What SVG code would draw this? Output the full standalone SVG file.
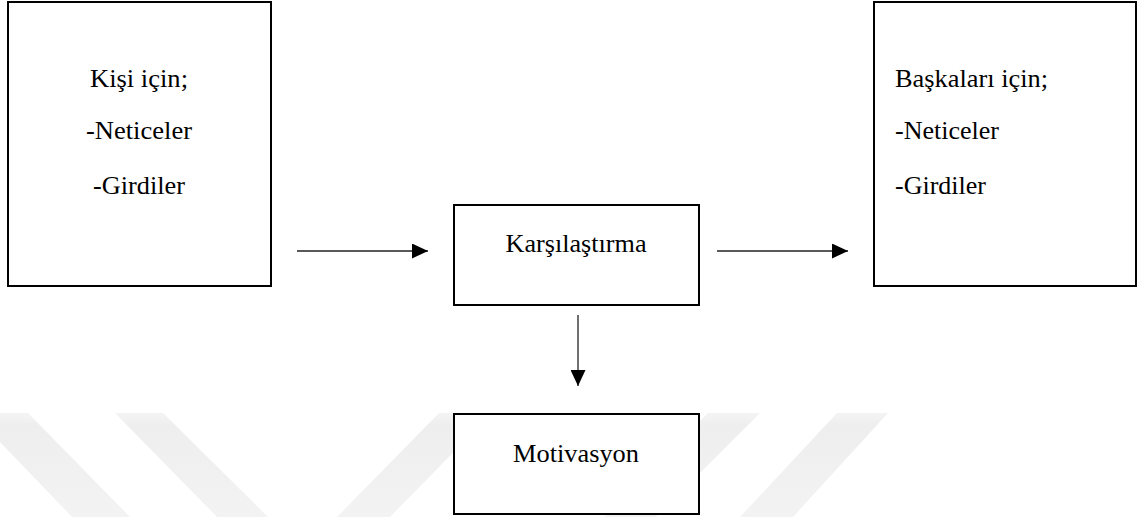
<svg xmlns="http://www.w3.org/2000/svg" width="1138" height="517" viewBox="0 0 1138 517">
  <style>
    .box { fill: #ffffff; stroke: #000000; stroke-width: 2; }
    .lbl { font-family: "Liberation Serif", "Times New Roman", serif; font-size: 25px; fill: #000000; }
    .mid { text-anchor: middle; }
    .conn { stroke: #222222; stroke-width: 1.3; fill: none; marker-end: url(#arrow); }
    .wm { fill: url(#wmgrad); }
  </style>
  <defs>
    <marker id="arrow" markerUnits="userSpaceOnUse" markerWidth="16" markerHeight="15" refX="16" refY="7.5" orient="auto">
      <path d="M0,0 L16,7.5 L0,15 z" fill="#000000"/>
    </marker>
    <linearGradient id="wmgrad" x1="0" y1="413" x2="0" y2="517" gradientUnits="userSpaceOnUse">
      <stop offset="0" stop-color="#f4f4f4"/>
      <stop offset="0.12" stop-color="#eeeeee"/>
      <stop offset="1" stop-color="#f3f3f3"/>
    </linearGradient>
  </defs>
  <rect x="0" y="0" width="1138" height="517" fill="#ffffff"/>
  <g id="watermark">
    <polygon class="wm" points="-28,413 28,413 130,517 72,517"/>
    <polygon class="wm" points="115,413 163,413 268,517 217,517"/>
    <polygon class="wm" points="439,413 492,413 390,517 337,517"/>
    <polygon class="wm" points="708,413 760,413 656,517 604,517"/>
    <polygon class="wm" points="837,413 888,413 793,517 740,517"/>
  </g>
  <g id="connectors">
    <line class="conn" x1="297" y1="251" x2="428" y2="251"/>
    <line class="conn" x1="717" y1="251" x2="848" y2="251"/>
    <line class="conn" x1="578" y1="315" x2="578" y2="386"/>
  </g>
  <g id="node-kisi">
    <rect class="box" x="8" y="2" width="263" height="284"/>
    <text class="lbl mid" x="139" y="87" textLength="98" lengthAdjust="spacingAndGlyphs">Kişi için;</text>
    <text class="lbl mid" x="139" y="139" textLength="106" lengthAdjust="spacingAndGlyphs">-Neticeler</text>
    <text class="lbl mid" x="139" y="194" textLength="92" lengthAdjust="spacingAndGlyphs">-Girdiler</text>
  </g>
  <g id="node-baskalari">
    <rect class="box" x="874" y="2" width="262" height="284"/>
    <text class="lbl" x="895" y="87" textLength="153" lengthAdjust="spacingAndGlyphs">Başkaları için;</text>
    <text class="lbl" x="895" y="139" textLength="104" lengthAdjust="spacingAndGlyphs">-Neticeler</text>
    <text class="lbl" x="895" y="194" textLength="91" lengthAdjust="spacingAndGlyphs">-Girdiler</text>
  </g>
  <g id="node-karsilastirma">
    <rect class="box" x="454" y="205" width="245" height="100"/>
    <text class="lbl mid" x="576" y="252" textLength="141" lengthAdjust="spacingAndGlyphs">Karşılaştırma</text>
  </g>
  <g id="node-motivasyon">
    <rect class="box" x="454" y="414" width="245" height="100"/>
    <text class="lbl mid" x="576" y="462" textLength="126" lengthAdjust="spacingAndGlyphs">Motivasyon</text>
  </g>
</svg>
